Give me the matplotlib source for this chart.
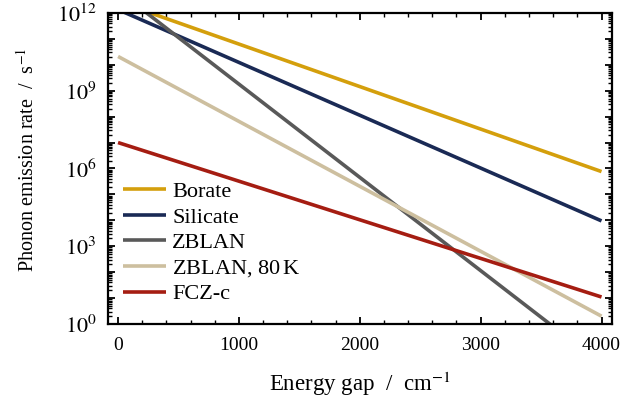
import numpy as np
import matplotlib
matplotlib.use("Agg")
import matplotlib.pyplot as plt
from matplotlib.ticker import LogLocator, FuncFormatter, MultipleLocator, NullFormatter

plt.rcParams['font.family'] = ['Liberation Serif', 'DejaVu Serif']
plt.rcParams['mathtext.fontset'] = 'stix'

# energy gap range (cm^-1) and emission rates (s^-1) at both ends
gap = [0, 4000]
borate = [2.75e12, 7.6e5]
silicate = [1.35e12, 9.5e3]
zblan = [7.1e12, 2.9e-2]
zblan_80k = [2.1e10, 2.0e0]
fcz_c = [1.0e7, 1.1e1]

names = ['Borate', 'Silicate', 'ZBLAN', 'ZBLAN, 80$\\,$K', 'FCZ-c']
colors = ['#d49f0c', '#1a2a55', '#595959', '#cdbf9f', '#a51d12']

fig = plt.figure(figsize=(6.23, 4.05), dpi=100)
ax = fig.add_axes([0.173, 0.2, 0.809, 0.768])

for rates, name, c in zip([borate, silicate, zblan, zblan_80k, fcz_c], names, colors):
    ax.plot(gap, rates, color=c, lw=2.6, label=name, solid_capstyle='butt')

ax.set_yscale('log')
ax.set_xlim(-85, 4085)
ax.set_ylim(1, 1e12)

ax.xaxis.set_major_locator(MultipleLocator(1000))
ax.xaxis.set_minor_locator(MultipleLocator(200))
ax.yaxis.set_major_locator(LogLocator(base=10, numticks=20))
ax.yaxis.set_minor_locator(LogLocator(base=10, subs=np.arange(2, 10), numticks=20))
ax.yaxis.set_minor_formatter(NullFormatter())

def ylab(v, pos):
    e = int(round(np.log10(v)))
    return '$10^{%d}$' % e if e % 3 == 0 else ''

ax.yaxis.set_major_formatter(FuncFormatter(ylab))

ax.tick_params(which='both', direction='in', top=True, right=True)
ax.tick_params(which='major', length=5, width=1.3)
ax.tick_params(which='minor', length=3, width=1.0)
ax.tick_params(axis='x', pad=9, labelsize=14)
ax.tick_params(axis='y', pad=8, labelsize=16)
for s in ax.spines.values():
    s.set_linewidth(1.6)

ax.set_xlabel('Energy gap  /  cm$^{-1}$', fontsize=16.5, labelpad=12)
ax.set_ylabel('Phonon emission rate  /  s$^{-1}$', fontsize=14.5)
ax.yaxis.set_label_coords(-0.138, 0.527)

ax.legend(loc='lower left', bbox_to_anchor=(0.0, 0.013), frameon=False, fontsize=16,
          handlelength=1.9, handletextpad=0.3, labelspacing=0.22, borderaxespad=0.3)

fig.savefig('out.png', dpi=100)
